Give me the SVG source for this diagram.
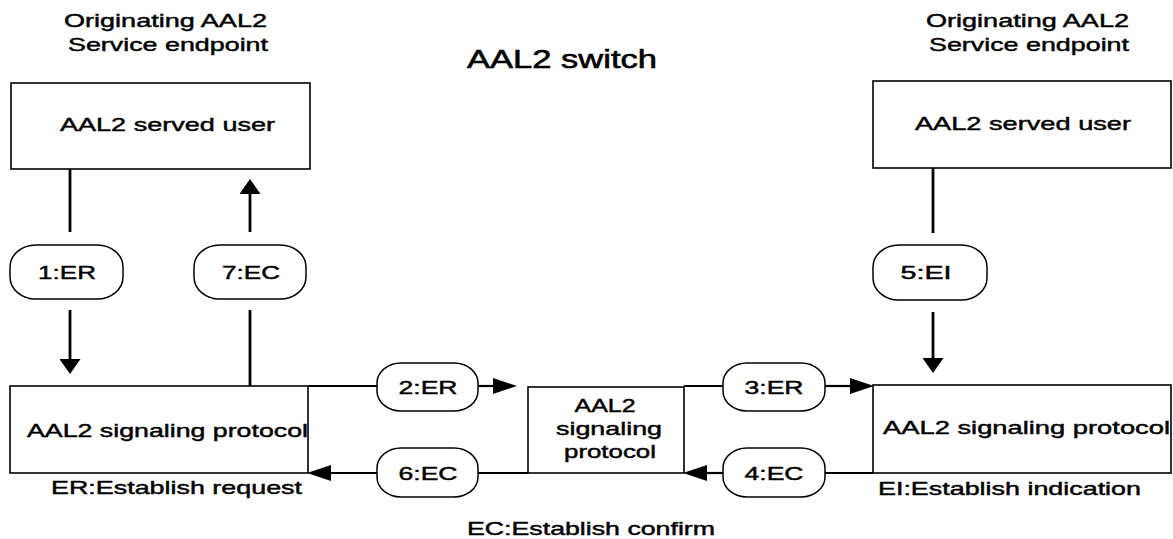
<svg xmlns="http://www.w3.org/2000/svg" width="1173" height="539" viewBox="0 0 1173 539">
  <style>
    .box { fill: #fff; stroke: #000; stroke-width: 1.6; }
    .pill { fill: #fff; stroke: #000; stroke-width: 1.5; }
    .ln { fill: none; stroke: #000; stroke-width: 2.2; }
    .vln { fill: none; stroke: #000; stroke-width: 2.8; }
    text { font-family: "Liberation Sans", Arial, sans-serif; font-size: 19px; fill: #000; stroke: #000; stroke-width: 0.45; }
    .title { font-size: 26px; stroke-width: 0.6; }
    .mid { text-anchor: middle; }
  </style>
  <defs>
    <!-- horizontal heads are long and narrow, vertical ones short and wide -->
    <marker id="headH" viewBox="0 0 24 16" refX="0" refY="8" markerWidth="24" markerHeight="16" markerUnits="userSpaceOnUse" orient="auto">
      <path d="M0,0 L24,8 L0,16 z" fill="#000"/>
    </marker>
    <marker id="headV" viewBox="0 0 15 21" refX="0" refY="10.5" markerWidth="15" markerHeight="21" markerUnits="userSpaceOnUse" orient="auto">
      <path d="M0,0 L15,10.5 L0,21 z" fill="#000"/>
    </marker>
  </defs>

  <rect width="1173" height="539" fill="#fff"/>

  <!-- headings -->
  <g id="headings">
    <text x="64" y="27" textLength="203" lengthAdjust="spacingAndGlyphs">Originating AAL2</text>
    <text x="68" y="51" textLength="200" lengthAdjust="spacingAndGlyphs">Service endpoint</text>
    <text x="926" y="27" textLength="203" lengthAdjust="spacingAndGlyphs">Originating AAL2</text>
    <text x="929" y="51" textLength="200" lengthAdjust="spacingAndGlyphs">Service endpoint</text>
    <text class="title" x="467" y="68" textLength="190" lengthAdjust="spacingAndGlyphs">AAL2 switch</text>
  </g>

  <!-- nodes -->
  <g id="user-left">
    <rect class="box" x="11" y="83" width="299" height="86"/>
    <text x="60" y="131" textLength="215" lengthAdjust="spacingAndGlyphs">AAL2 served user</text>
  </g>
  <g id="user-right">
    <rect class="box" x="873" y="81" width="298" height="87"/>
    <text x="915" y="130" textLength="216" lengthAdjust="spacingAndGlyphs">AAL2 served user</text>
  </g>
  <g id="sig-left">
    <rect class="box" x="10" y="386" width="298" height="87"/>
    <text x="27" y="437" textLength="281" lengthAdjust="spacingAndGlyphs">AAL2 signaling protocol</text>
  </g>
  <g id="sig-switch">
    <rect class="box" x="528" y="387" width="156" height="86"/>
    <text class="mid" x="605" y="412" textLength="61" lengthAdjust="spacingAndGlyphs">AAL2</text>
    <text class="mid" x="609" y="435" textLength="106" lengthAdjust="spacingAndGlyphs">signaling</text>
    <text class="mid" x="610" y="458" textLength="92" lengthAdjust="spacingAndGlyphs">protocol</text>
  </g>
  <g id="sig-right">
    <rect class="box" x="873" y="385" width="298" height="88"/>
    <text x="883" y="434" textLength="287" lengthAdjust="spacingAndGlyphs">AAL2 signaling protocol</text>
  </g>

  <!-- connectors with their message labels -->
  <g id="connectors">
    <g id="msg1">
      <line class="vln" x1="70" y1="169" x2="70" y2="232"/>
      <line class="vln" x1="70" y1="310" x2="70" y2="359" marker-end="url(#headV)"/>
      <rect class="pill" x="10" y="245" width="113" height="54" rx="26" ry="22"/>
      <text class="mid" x="67" y="279" textLength="58" lengthAdjust="spacingAndGlyphs">1:ER</text>
    </g>
    <g id="msg7">
      <line class="vln" x1="250" y1="386" x2="250" y2="310"/>
      <line class="vln" x1="250" y1="232" x2="250" y2="194" marker-end="url(#headV)"/>
      <rect class="pill" x="194" y="245" width="112" height="54" rx="26" ry="22"/>
      <text class="mid" x="251" y="279" textLength="58" lengthAdjust="spacingAndGlyphs">7:EC</text>
    </g>
    <g id="msg5">
      <line class="vln" x1="933" y1="168" x2="933" y2="233"/>
      <line class="vln" x1="933" y1="312" x2="933" y2="358" marker-end="url(#headV)"/>
      <rect class="pill" x="873" y="245" width="114" height="55" rx="26" ry="22"/>
      <text class="mid" x="926" y="279" textLength="51" lengthAdjust="spacingAndGlyphs">5:EI</text>
    </g>
    <g id="msg2">
      <line class="ln" x1="308" y1="386" x2="377" y2="386"/>
      <line class="ln" x1="478" y1="386" x2="493" y2="386" marker-end="url(#headH)"/>
      <rect class="pill" x="377" y="363" width="101" height="48" rx="24" ry="20"/>
      <text class="mid" x="428" y="394" textLength="59" lengthAdjust="spacingAndGlyphs">2:ER</text>
    </g>
    <g id="msg6">
      <line class="ln" x1="528" y1="473" x2="478" y2="473"/>
      <line class="ln" x1="377" y1="473" x2="331" y2="473" marker-end="url(#headH)"/>
      <rect class="pill" x="377" y="448" width="101" height="49" rx="24" ry="20"/>
      <text class="mid" x="428" y="480" textLength="59" lengthAdjust="spacingAndGlyphs">6:EC</text>
    </g>
    <g id="msg3">
      <line class="ln" x1="684" y1="386" x2="723" y2="386"/>
      <line class="ln" x1="825" y1="386" x2="850" y2="386" marker-end="url(#headH)"/>
      <rect class="pill" x="723" y="363" width="102" height="48" rx="24" ry="20"/>
      <text class="mid" x="774" y="394" textLength="59" lengthAdjust="spacingAndGlyphs">3:ER</text>
    </g>
    <g id="msg4">
      <line class="ln" x1="873" y1="473" x2="825" y2="473"/>
      <line class="ln" x1="723" y1="473" x2="707" y2="473" marker-end="url(#headH)"/>
      <rect class="pill" x="723" y="448" width="102" height="49" rx="24" ry="20"/>
      <text class="mid" x="774" y="480" textLength="59" lengthAdjust="spacingAndGlyphs">4:EC</text>
    </g>
  </g>

  <!-- abbreviation legend -->
  <g id="legend">
    <text x="51" y="494" textLength="251" lengthAdjust="spacingAndGlyphs">ER:Establish request</text>
    <text x="878" y="495" textLength="263" lengthAdjust="spacingAndGlyphs">EI:Establish indication</text>
    <text x="467" y="535" textLength="248" lengthAdjust="spacingAndGlyphs">EC:Establish confirm</text>
  </g>
</svg>
